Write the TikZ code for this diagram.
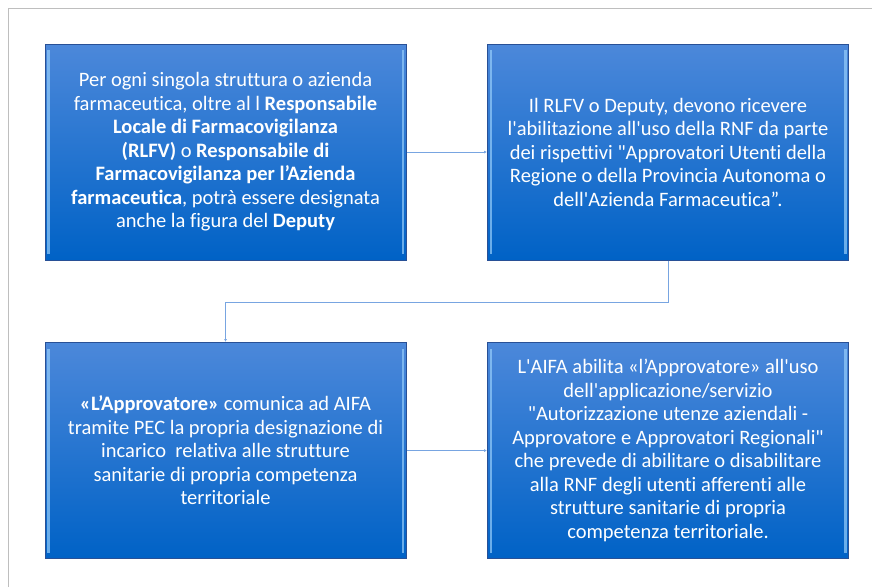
\documentclass[tikz,border=0pt]{standalone}
\usepackage{fontspec}
\setmainfont{Carlito}[Ligatures={TeXOff,NoCommon}]
\usetikzlibrary{arrows.meta}
\definecolor{boxtop}{RGB}{76,136,218}
\definecolor{boxbot}{RGB}{0,98,198}
\definecolor{boxline}{RGB}{40,80,150}
\definecolor{bevel}{RGB}{150,205,250}
\definecolor{linkblue}{RGB}{120,165,225}
\definecolor{framegray}{RGB}{190,190,190}
\begin{document}
\begin{tikzpicture}
[x=1pt,y=-1pt,
  stepbox/.style={shape=rectangle,draw=boxline,line width=1pt,
    top color=boxtop,bottom color=boxbot,
    minimum width=361pt,minimum height=216pt,inner sep=0pt,
    text=white,align=center,font=\fontsize{20.5}{23.5}\selectfont,
    path picture={
      \fill[bevel,opacity=.7] ([xshift=2pt,yshift=-6pt]path picture bounding box.north west)
        rectangle ([xshift=4.5pt,yshift=6pt]path picture bounding box.south west);
      \fill[bevel,opacity=.7] ([xshift=-4.5pt,yshift=-6pt]path picture bounding box.north east)
        rectangle ([xshift=-2pt,yshift=6pt]path picture bounding box.south east);}},
  linkdecorate/.style={draw=linkblue,line width=0.8pt,-{Latex[length=3pt,width=3pt]}}]
\useasboundingbox (0,0) rectangle (872,587);
%%% page frame
\draw[framegray,line width=1.2pt] (8.5,587) -- (8.5,8.5) -- (872,8.5);
%%% boxes
% top row
\node (rlfv) at (225.5,152) [stepbox] {Per ogni singola struttura o azienda\\
farmaceutica, oltre al l \textbf{Responsabile}\\
\textbf{Locale di Farmacovigilanza}\\
\textbf{(RLFV)} o \textbf{Responsabile di}\\
\textbf{Farmacovigilanza per l’Azienda}\\
\textbf{farmaceutica}, potrà essere designata\\
anche la figura del \textbf{Deputy}};
\node (abil) at (668,152) [stepbox] {Il RLFV o Deputy, devono ricevere\\
l'abilitazione all'uso della RNF da parte\\
dei rispettivi "Approvatori Utenti della\\
Regione o della Provincia Autonoma o\\
dell'Azienda Farmaceutica”.};
% bottom row
\node (appr) at (225.5,450.5) [stepbox] {\textbf{«L’Approvatore»} comunica ad AIFA\\
tramite PEC la propria designazione di\\
incarico\ \ relativa alle strutture\\
sanitarie di propria competenza\\
territoriale};
\node (aifa) at (668,450.5) [stepbox] {L'AIFA abilita «l’Approvatore» all'uso\\
dell'applicazione/servizio\\
"Autorizzazione utenze aziendali -\\
Approvatore e Approvatori Regionali"\\
che prevede di abilitare o disabilitare\\
alla RNF degli utenti afferenti alle\\
strutture sanitarie di propria\\
competenza territoriale.};
%%% connectors
\path
(rlfv) edge[linkdecorate] (abil)
(appr) edge[linkdecorate] (aifa);
\draw[linkdecorate] (abil.south) -- ++(0,41.5) -| (appr.north);
\end{tikzpicture}
\end{document}
